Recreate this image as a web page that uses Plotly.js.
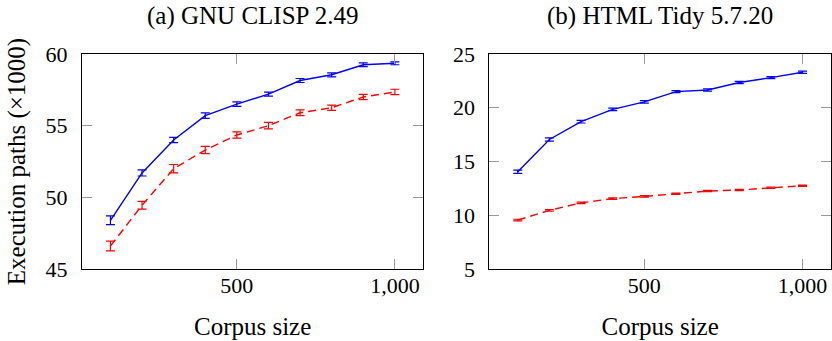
<!DOCTYPE html>
<html>
<head>
<meta charset="utf-8">
<script src="https://cdn.plot.ly/plotly-3.0.1.min.js"></script>
<style>
  html, body { margin: 0; padding: 0; background: #fff; }
  #chart { width: 832px; height: 341px; }
</style>
</head>
<body>
<div id="chart"></div>
<script>
// Corpus sizes shared by both panels
const corpusSize = [100, 200, 300, 400, 500, 600, 700, 800, 900, 1000];

// (a) GNU CLISP 2.49 — execution paths (thousands)
const clispBlue    = [48.4, 51.7, 54.0, 55.7, 56.5, 57.2, 58.15, 58.55, 59.25, 59.35];
const clispBlueErr = [0.3, 0.21, 0.19, 0.19, 0.16, 0.14, 0.14, 0.14, 0.13, 0.1];
const clispRed     = [46.6, 49.45, 52.0, 53.3, 54.35, 55.0, 55.9, 56.25, 57.0, 57.35];
const clispRedErr  = [0.34, 0.27, 0.29, 0.25, 0.22, 0.23, 0.2, 0.19, 0.18, 0.19];

// (b) HTML Tidy 5.7.20 — execution paths (thousands)
const tidyBlue    = [14.05, 17.05, 18.7, 19.85, 20.55, 21.5, 21.65, 22.35, 22.8, 23.3];
const tidyBlueErr = [0.15, 0.15, 0.12, 0.12, 0.12, 0.1, 0.1, 0.1, 0.1, 0.1];
const tidyRed     = [9.55, 10.45, 11.15, 11.55, 11.75, 12.0, 12.25, 12.35, 12.55, 12.75];
const tidyRedErr  = [0.08, 0.08, 0.07, 0.07, 0.07, 0.06, 0.06, 0.06, 0.06, 0.06];

// Axis ticks
const xTickVals = [500, 1000];
const xTickText = ["500", "1,000"];
const yTickA = [45, 50, 55, 60];
const yTickB = [5, 10, 15, 20, 25];

const panelTitles = ["(a) GNU CLISP 2.49", "(b) HTML Tidy 5.7.20"];
const xTitle = "Corpus size";
const yTitle = "Execution paths (×1000)";

const SERIF = "'Liberation Serif', 'DejaVu Serif', serif";
const BLUE = "#0000ff";
const RED = "#ff0000";

function series(y, err, color, dash, xa, ya) {
  return {
    x: corpusSize, y: y, xaxis: xa, yaxis: ya,
    type: "scatter", mode: "lines",
    line: { color: color, width: 1.4, dash: dash },
    error_y: { type: "data", array: err, visible: true, color: color, thickness: 1.2, width: 4.5 },
    showlegend: false, hoverinfo: "skip"
  };
}

const data = [
  series(clispRed, clispRedErr, RED, "8px,5px", "x", "y"),
  series(clispBlue, clispBlueErr, BLUE, "solid", "x", "y"),
  series(tidyRed, tidyRedErr, RED, "8px,5px", "x2", "y2"),
  series(tidyBlue, tidyBlueErr, BLUE, "solid", "x2", "y2")
];

const tickFont = { family: SERIF, size: 22, color: "#000" };
const titleFont = { family: SERIF, size: 25, color: "#000" };

function xAxis(domain, anchor) {
  return {
    domain: domain, anchor: anchor, range: [10, 1090],
    tickmode: "array", tickvals: xTickVals, ticktext: xTickText,
    ticks: "inside", ticklen: 10, tickwidth: 1, tickcolor: "#999",
    mirror: "allticks", showline: true, linecolor: "#000", linewidth: 1,
    showgrid: false, zeroline: false, tickfont: tickFont, ticklabelstandoff: -3,
    title: { text: xTitle, font: titleFont, standoff: 20 }
  };
}
function yAxis(range, vals, anchor, withTitle) {
  const ax = {
    anchor: anchor, range: range,
    tickmode: "array", tickvals: vals,
    ticks: "inside", ticklen: 10, tickwidth: 1, tickcolor: "#999",
    mirror: "allticks", showline: true, linecolor: "#000", linewidth: 1,
    showgrid: false, zeroline: false, tickfont: tickFont, ticklabelstandoff: 9
  };
  if (withTitle) ax.title = { text: yTitle, font: titleFont, standoff: 12 };
  return ax;
}

const layout = {
  width: 832, height: 341,
  margin: { l: 82, r: 1, t: 54, b: 72 },
  paper_bgcolor: "#fff", plot_bgcolor: "#fff",
  xaxis: xAxis([0, 0.4557], "y"),
  yaxis: yAxis([45, 60], yTickA, "x", true),
  xaxis2: xAxis([0.5438, 1], "y2"),
  yaxis2: yAxis([5, 25], yTickB, "x2", false),
  annotations: [
    { text: panelTitles[0], xref: "paper", yref: "paper", x: 0.2279, y: 1, yshift: 38,
      xanchor: "center", yanchor: "middle", showarrow: false, font: titleFont },
    { text: panelTitles[1], xref: "paper", yref: "paper", x: 0.7719, y: 1, yshift: 38,
      xanchor: "center", yanchor: "middle", showarrow: false, font: titleFont }
  ]
};

Plotly.newPlot("chart", data, layout, { staticPlot: true, displayModeBar: false });
</script>
</body>
</html>
